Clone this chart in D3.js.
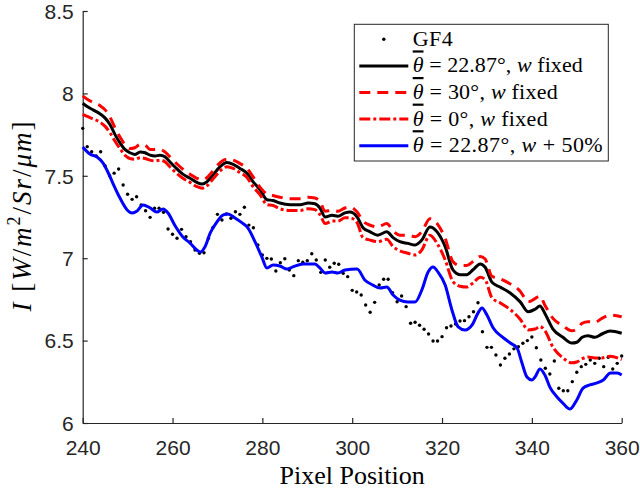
<!DOCTYPE html>
<html>
<head>
<meta charset="utf-8">
<script src="https://cdn.jsdelivr.net/npm/d3@7"></script>
<style>
  html, body { margin: 0; padding: 0; background: #fff; }
  svg { display: block; }
  .tick text { font-family: "Liberation Sans", Arial, sans-serif; font-size: 21px; fill: #262626; }
  .tex { font-family: "Liberation Serif", "Times New Roman", serif; fill: #000; }
</style>
</head>
<body>
<svg id="chart" width="640" height="492"></svg>
<script>
// Measured intensity (GF4), one sample per pixel position
const gf4Pos = d3.range(240, 361);
const gf4Vals = [
  7.788, 7.677, 7.646, 7.62, 7.646, 7.56, 7.50, 7.516, 7.541, 7.444,
  7.388, 7.357, 7.373, 7.323, 7.288, 7.248, 7.303, 7.303, 7.279, 7.177,
  7.145, 7.121, 7.175, 7.130, 7.10, 7.050, 7.030, 7.033, 7.121, 7.187,
  7.266, 7.232, 7.268, 7.242, 7.282, 7.266, 7.309, 7.201, 7.185, 7.08,
  7.019, 6.999, 6.995, 6.922, 6.973, 6.997, 6.928, 6.894, 6.985, 6.975,
  6.985, 7.027, 6.989, 6.914, 6.989, 6.945, 6.969, 6.963, 6.908, 6.888,
  6.805, 6.795, 6.777, 6.716, 6.672, 6.732, 6.837, 6.872, 6.872, 6.79,
  6.736, 6.771, 6.706, 6.605, 6.611, 6.593, 6.569, 6.540, 6.498, 6.498,
  6.524, 6.578, 6.589, 6.601, 6.619, 6.621, 6.645, 6.675, 6.730, 6.554,
  6.459, 6.459, 6.413, 6.352, 6.393, 6.419, 6.45, 6.463, 6.484, 6.500,
  6.522, 6.457, 6.382, 6.332, 6.297, 6.376, 6.211, 6.196, 6.196, 6.251,
  6.308, 6.342, 6.356, 6.382, 6.362, 6.393, 6.342, 6.399, 6.328, 6.362,
  6.407
];

// Model curves with fixed width: sample positions shared by the three angles
const modelPos = [
  240, 241, 242.3, 243.9, 245, 246.1, 247.2, 248.3, 249.4, 250.5,
  251.6, 252.8, 253.9, 255, 256.1, 257.2, 258.3, 259.4, 260.5, 262.3,
  263.9, 265.4, 266.6, 267.7, 269, 270.6, 272.1, 273.5, 275, 276.6,
  277.9, 279.5, 281, 282.4, 283.9, 286.2, 288.4, 290.2, 291.7, 292.8,
  294, 295.5, 296.8, 298.4, 299.5, 301.1, 302.4, 304, 305.7, 307.7,
  309.1, 310.6, 312.4, 314, 315.5, 317.3, 318.9, 320.7, 322.4, 324,
  325.5, 326.9, 328.5, 329.6, 331.1, 332.9, 335.1, 337.4, 339.2, 340.7,
  341.8, 342.9, 344.7, 346.9, 348.9, 350, 351.2, 352.5, 354, 355.6,
  357.4, 360
];
const theta2287Vals = [
  7.94, 7.92, 7.90, 7.875, 7.85, 7.81, 7.75, 7.70, 7.66, 7.64,
  7.63, 7.645, 7.64, 7.625, 7.62, 7.625, 7.615, 7.585, 7.555, 7.51,
  7.485, 7.46, 7.45, 7.465, 7.505, 7.555, 7.58, 7.57, 7.545, 7.515,
  7.465, 7.415, 7.355, 7.35, 7.335, 7.325, 7.325, 7.335, 7.33, 7.305,
  7.25, 7.26, 7.255, 7.275, 7.28, 7.25, 7.185, 7.16, 7.14, 7.16,
  7.125, 7.10, 7.09, 7.08, 7.11, 7.19, 7.16, 7.07, 6.93, 6.90,
  6.90, 6.93, 6.965, 6.945, 6.855, 6.825, 6.79, 6.735, 6.675, 6.69,
  6.71, 6.665, 6.57, 6.52, 6.485, 6.49, 6.52, 6.53, 6.52, 6.54,
  6.558, 6.545
];
const theta30Vals = [
  7.985, 7.965, 7.945, 7.925, 7.90, 7.855, 7.79, 7.735, 7.69, 7.665,
  7.67, 7.69, 7.685, 7.66, 7.66, 7.66, 7.645, 7.615, 7.585, 7.54,
  7.51, 7.485, 7.475, 7.49, 7.53, 7.58, 7.60, 7.595, 7.575, 7.545,
  7.495, 7.43, 7.39, 7.38, 7.37, 7.36, 7.36, 7.37, 7.365, 7.345,
  7.285, 7.29, 7.285, 7.305, 7.31, 7.28, 7.225, 7.20, 7.19, 7.21,
  7.165, 7.14, 7.14, 7.13, 7.16, 7.24, 7.21, 7.12, 6.98, 6.955,
  6.955, 6.98, 7.01, 6.995, 6.89, 6.875, 6.845, 6.80, 6.735, 6.755,
  6.77, 6.715, 6.635, 6.59, 6.56, 6.57, 6.605, 6.615, 6.61, 6.635,
  6.655, 6.645
];
const theta0Vals = [
  7.873, 7.86, 7.845, 7.825, 7.80, 7.76, 7.71, 7.665, 7.625, 7.605,
  7.60, 7.61, 7.605, 7.595, 7.59, 7.595, 7.585, 7.555, 7.525, 7.485,
  7.46, 7.435, 7.425, 7.44, 7.48, 7.53, 7.555, 7.545, 7.52, 7.49,
  7.435, 7.385, 7.325, 7.32, 7.30, 7.29, 7.29, 7.30, 7.295, 7.265,
  7.21, 7.225, 7.225, 7.245, 7.245, 7.215, 7.125, 7.11, 7.10, 7.115,
  7.07, 7.045, 7.03, 7.02, 7.05, 7.14, 7.09, 6.99, 6.86, 6.83,
  6.825, 6.85, 6.885, 6.87, 6.76, 6.73, 6.69, 6.63, 6.565, 6.57,
  6.585, 6.56, 6.46, 6.395, 6.365, 6.37, 6.39, 6.40, 6.395, 6.395,
  6.405, 6.385
];

// Model curve with width increased by 50%
const widePos = [
  240, 241.6, 243.2, 244.5, 245.6, 246.7, 248.3, 249.9, 251, 252.1,
  253.4, 255, 256.5, 257.9, 259, 260.5, 262.3, 263.9, 265.4, 266.2,
  267.2, 268.4, 269.9, 271.2, 272.3, 273.9, 275.5, 276.8, 278.4, 279.9,
  281, 282.4, 283.9, 285.5, 286.8, 289.1, 291.7, 292.8, 294, 295.5,
  296.8, 298.4, 301.1, 302.8, 304.6, 306.2, 307.7, 309.1, 310.6, 312.4,
  314, 315.5, 316.9, 318, 319.1, 320.7, 322.2, 323.6, 325.1, 326.7,
  328, 328.9, 330, 331.4, 333.4, 335.2, 336.7, 337.8, 338.9, 340,
  340.7, 341.8, 342.9, 344, 345.6, 346.9, 348.5, 350, 351.4, 352.9,
  354.5, 355.9, 357.5, 359, 360
];
const wideVals = [
  7.675, 7.632, 7.614, 7.578, 7.523, 7.456, 7.365, 7.293, 7.274, 7.286,
  7.323, 7.305, 7.28, 7.299, 7.274, 7.20, 7.129, 7.092, 7.05, 7.038,
  7.068, 7.153, 7.22, 7.262, 7.268, 7.244, 7.214, 7.183, 7.098, 7.007,
  6.941, 6.959, 6.953, 6.934, 6.947, 6.965, 6.965, 6.941, 6.91, 6.916,
  6.91, 6.928, 6.934, 6.868, 6.837, 6.819, 6.825, 6.777, 6.746, 6.734,
  6.734, 6.807, 6.916, 6.947, 6.916, 6.837, 6.686, 6.583, 6.564, 6.595,
  6.667, 6.698, 6.655, 6.576, 6.522, 6.485, 6.455, 6.364, 6.279, 6.261,
  6.279, 6.328, 6.291, 6.218, 6.158, 6.121, 6.085, 6.14, 6.212, 6.231,
  6.243, 6.261, 6.303, 6.303, 6.291
];

const xTicks = [240, 260, 280, 300, 320, 340, 360];
const yTicks = [6, 6.5, 7, 7.5, 8, 8.5];

const svg = d3.select("#chart");
const plot = { left: 82.7, right: 621.7, top: 11, bottom: 423 };

const x = d3.scaleLinear().domain([240, 360]).range([plot.left, plot.right]);
const y = d3.scaleLinear().domain([6, 8.5]).range([plot.bottom, plot.top]);

// Axes: ticks pointing into the plot, no box
const axisColor = "#262626";
const gx = svg.append("g")
  .attr("transform", `translate(0,${plot.bottom})`)
  .call(d3.axisBottom(x).tickValues(xTicks).tickSize(-5).tickSizeOuter(0).tickFormat(d3.format("d")));
gx.selectAll(".tick text").attr("y", 32).attr("dy", 0);

const gy = svg.append("g")
  .attr("transform", `translate(${plot.left},0)`)
  .call(d3.axisLeft(y).tickValues(yTicks).tickSize(-5).tickSizeOuter(0).tickFormat(d => String(d)));
gy.selectAll(".tick text").attr("x", -9).attr("dy", "0.35em");

svg.selectAll(".domain, .tick line").attr("stroke", axisColor).attr("stroke-width", 1.2);

// Series
const seriesLine = (xs) => d3.line()
  .x((d, i) => x(xs[i]))
  .y(d => y(d))
  .curve(d3.curveMonotoneX);

svg.append("g").selectAll("circle")
  .data(gf4Vals)
  .join("circle")
  .attr("cx", (d, i) => x(gf4Pos[i]))
  .attr("cy", d => y(d))
  .attr("r", 1.7)
  .attr("fill", "#000");

const styles = [
  { vals: theta2287Vals, pos: modelPos, color: "#000000", dash: null },
  { vals: theta30Vals, pos: modelPos, color: "#ff0000", dash: "11,7" },
  { vals: theta0Vals, pos: modelPos, color: "#ff0000", dash: "11,3,3,3" },
  { vals: wideVals, pos: widePos, color: "#0000ff", dash: null }
];

styles.forEach(s => {
  svg.append("path")
    .attr("d", seriesLine(s.pos)(s.vals))
    .attr("fill", "none")
    .attr("stroke", s.color)
    .attr("stroke-width", 3)
    .attr("stroke-linejoin", "round")
    .attr("stroke-dasharray", s.dash);
});

// Axis titles
svg.append("text")
  .attr("class", "tex")
  .attr("x", (plot.left + plot.right) / 2)
  .attr("y", 484)
  .attr("text-anchor", "middle")
  .attr("font-size", 26)
  .attr("fill", "#262626")
  .text("Pixel Position");

const yl = svg.append("text")
  .attr("class", "tex")
  .attr("transform", `translate(31,${(plot.top + plot.bottom) / 2 - 0.5}) rotate(-90)`)
  .attr("text-anchor", "middle")
  .attr("font-size", 27)
  .attr("textLength", 190)
  .attr("lengthAdjust", "spacing")
  .attr("fill", "#262626");
const ylParts = [
  ["I", true], [" [", false], ["W", true], ["/", false], ["m", true]
];
ylParts.forEach(([t, it]) => yl.append("tspan").attr("font-style", it ? "italic" : "normal").text(t));
yl.append("tspan").attr("font-size", 18).attr("dy", -11).text("2");
yl.append("tspan").attr("dy", 11).text("/");
yl.append("tspan").attr("font-style", "italic").text("Sr");
yl.append("tspan").text("/");
yl.append("tspan").attr("font-style", "italic").text("\u03bcm");
yl.append("tspan").text("]");

// Legend
const lg = { x: 354.3, y: 24.3, w: 254, h: 136.7 };
svg.append("rect")
  .attr("x", lg.x).attr("y", lg.y).attr("width", lg.w).attr("height", lg.h)
  .attr("fill", "#fff").attr("stroke", "#262626").attr("stroke-width", 1);

const rowY = [39.3, 65.9, 92.5, 119.1, 145.7];
const legendAngles = ["22.87", "30", "0", "22.87"];
const legendTails = ["fixed", "fixed", "fixed", "+ 50%"];
const legendWidths = [170, 145, 135, 190];
const sx0 = 359.3, sx1 = 408.3, tx = 412.7;

svg.append("circle").attr("cx", (sx0 + sx1) / 2).attr("cy", rowY[0]).attr("r", 1.7).attr("fill", "#000");
svg.append("text").attr("class", "tex").attr("x", tx).attr("y", rowY[0] + 6.5)
  .attr("font-size", 22).attr("textLength", 40).attr("lengthAdjust", "spacing").text("GF4");

styles.forEach((s, i) => {
  const ry = rowY[i + 1];
  svg.append("line")
    .attr("x1", sx0).attr("x2", sx1).attr("y1", ry).attr("y2", ry)
    .attr("stroke", s.color).attr("stroke-width", 3)
    .attr("stroke-dasharray", s.dash);
  const t = svg.append("text").attr("class", "tex").attr("x", tx).attr("y", ry + 6.5)
    .attr("font-size", 22)
    .attr("textLength", legendWidths[i]).attr("lengthAdjust", "spacing");
  t.append("tspan").attr("font-style", "italic").attr("text-decoration", "overline").text("\u03b8");
  t.append("tspan").text(` = ${legendAngles[i]}\u00b0, `);
  t.append("tspan").attr("font-style", "italic").text("w");
  t.append("tspan").text(" " + legendTails[i]);
});
</script>
</body>
</html>
